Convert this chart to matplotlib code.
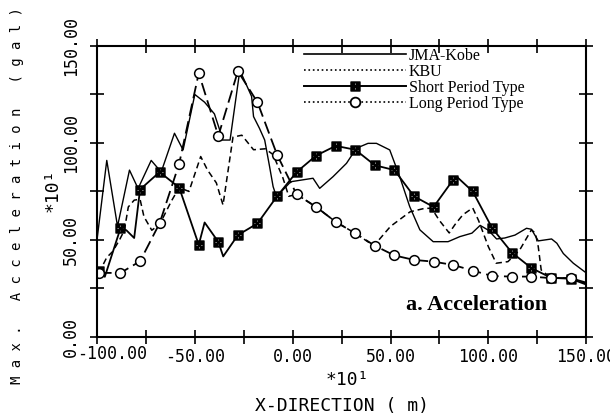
import matplotlib
matplotlib.use("Agg")
import matplotlib.pyplot as plt
from matplotlib.lines import Line2D
from matplotlib.ticker import MultipleLocator, FuncFormatter
from matplotlib.transforms import ScaledTranslation

# ── Data (x in *10 m, acceleration in *10 gal) ───────────────────────────────
JMA_X = [-100, -95, -89.5, -83.4, -79, -72.3, -67.2, -60.4, -56, -50, -45, -40,
         -37.3, -35.8, -32, -27, -21, -20, -17, -14.3, -11.8, -10, -8.3, -1,
         5.3, 10.4, 13.8, 20.6, 27.5, 32.6, 38.5, 42.8, 49.6, 54.7, 59.8, 65,
         71.8, 79.4, 85.4, 91.6, 95.8, 100, 104.2, 108.4, 113.6, 119.5, 122,
         125.5, 132.3, 135, 138.3, 143.4, 150]
JMA_Y = [50, 91, 57, 86, 76.5, 91, 85, 105, 96.4, 125, 121, 115,
         106.7, 101.5, 101.5, 137.5, 124, 113.6, 107.6, 101.5, 87.8, 77.5, 72.3, 80,
         81, 81.8, 76.6, 82.6, 89.5, 97.3, 99.8, 99.8, 96.4, 82.6, 67.2, 55.2,
         49.1, 49.1, 51.7, 53.5, 57.5, 55, 50.5, 51, 52.5, 56, 55.5,
         49.5, 50.5, 48.3, 43, 38, 33]

KBU_X = [-99, -95, -92, -88.5, -86, -84, -81, -78, -76, -72, -68, -62, -58, -53,
         -47, -43.5, -39, -35.6, -30.5, -26, -20, -14, -10, -5, -2, 2, 12, 22,
         32, 41.5, 50, 60, 67.5, 71, 75, 80, 83, 87, 92, 95, 100, 104, 110, 116,
         122, 124, 125.5, 127, 132, 142, 150]
KBU_Y = [33, 41, 44, 50, 55, 67, 70.5, 71, 62, 55, 58, 70, 77, 75,
         93, 86, 79.4, 68, 103, 104, 96.5, 97, 94, 82, 72.5, 73.5, 67, 59.3,
         53.4, 47, 57, 64.5, 66.3, 66.3, 60, 53.6, 58, 63, 66.5, 60, 46.5, 38, 38.8, 44.8,
         55.2, 53.5, 46.5, 34.5, 30.3, 30.3, 27.5]

SP_X = [-99, -96, -88, -85, -81, -78, -68, -58, -48, -45, -38, -35.5, -28, -18,
        -8, 2, 12, 22, 32, 42, 52, 62, 72, 82, 84.5, 92, 102, 112, 122, 132,
        142, 150]
SP_Y = [34, 31, 56, 55, 51, 76, 85, 77, 47.5, 59, 49, 41.5, 52.5, 58.5,
        72.5, 85, 93.5, 98.5, 96.5, 88.5, 86, 72.5, 67, 81, 82, 75, 56, 43.5, 35.5, 30.5,
        30, 27]

MARK_X = [-99, -88, -78, -68, -58, -48, -38, -28, -18, -8, 2, 12, 22, 32, 42,
          52, 62, 72, 82, 92, 102, 112, 122, 132, 142]
SP_MARK_Y = [34, 56, 76, 85, 77, 47.5, 49, 52.5, 58.5, 72.5, 85, 93.5, 98.5,
             96.5, 88.5, 86, 72.5, 67, 81, 75, 56, 43.5, 35.5, 30.5, 30]
LP_MARK_Y = [33, 33, 39, 58.6, 89.3, 136, 103.6, 137, 121, 94, 73.5, 67, 59.3,
             53.4, 47, 42, 39.7, 38.8, 37.1, 34.2, 31.4, 31.1, 31.1, 30.3, 30.3]
LP_END_X, LP_END_Y = 150, 28

X_MIN, X_MAX = -100, 150
LABELS = ["JMA-Kobe", "KBU", "Short Period Type", "Long Period Type"]

MONO = "DejaVu Sans Mono"
SERIF = "Liberation Serif"
SP_MARKER = r"$\boxtimes$"

# ── Figure ───────────────────────────────────────────────────────────────────
fig = plt.figure(figsize=(6.1, 4.18), dpi=100, facecolor="white")
ax = fig.add_axes([0.159, 0.194, 0.802, 0.696])

ax.plot(JMA_X, JMA_Y, color="black", lw=1.0)
ax.plot(KBU_X, KBU_Y, color="black", lw=1.1, ls=(0, (4, 2.5)))
ax.plot(SP_X, SP_Y, color="black", lw=1.3)
ax.plot(MARK_X, SP_MARK_Y, ls="none", marker=SP_MARKER, ms=6.5, color="black")
ax.plot(MARK_X + [LP_END_X], LP_MARK_Y + [LP_END_Y], color="black", lw=1.3,
        ls=(0, (7, 3)))
ax.plot(MARK_X, LP_MARK_Y, ls="none", marker="o", ms=7, mfc="white",
        mec="black", mew=1.1)

ax.set_xlim(X_MIN, X_MAX)
ax.set_ylim(0, 150)
ax.xaxis.set_major_locator(MultipleLocator(25))
ax.yaxis.set_major_locator(MultipleLocator(25))
# the leftmost x label is drawn separately, shifted right as in the reference
ax.xaxis.set_major_formatter(FuncFormatter(
    lambda v, p: f"{v:.2f}" if v % 50 == 0 and v > X_MIN else ""))
ax.yaxis.set_major_formatter(FuncFormatter(lambda v, p: f"{v:.2f}" if v % 50 == 0 else ""))
ax.tick_params(direction="inout", length=10, width=1.2, top=True, right=True,
               labelsize=12, pad=3)
ax.tick_params(axis="y", labelrotation=90, pad=7)
for lab in ax.get_xticklabels() + ax.get_yticklabels():
    lab.set_family(MONO)
for lab in ax.get_yticklabels():
    lab.set_va("center")
for s in ax.spines.values():
    s.set_linewidth(1.5)

shift = ax.get_xaxis_transform() + ScaledTranslation(0.15, -0.08, fig.dpi_scale_trans)
ax.text(X_MIN, 0, f"{X_MIN:.2f}", transform=shift, ha="center", va="top",
        fontsize=12, family=MONO, clip_on=False)

# legend (reference shows the dashed series as dotted samples)
handles = [
    Line2D([], [], color="black", lw=1.2),
    Line2D([], [], color="black", lw=1.2, ls=":"),
    Line2D([], [], color="black", lw=1.4, marker=SP_MARKER, ms=6.5),
    Line2D([], [], color="black", lw=1.2, ls=":", marker="o", ms=7,
           mfc="white", mec="black", mew=1.3),
]
ax.legend(handles, LABELS, loc="upper left", bbox_to_anchor=(0.42, 1.0),
          frameon=False, borderpad=0.1, borderaxespad=0, handlelength=6.4,
          handletextpad=0.15, labelspacing=0.0,
          prop={"family": SERIF, "size": 11.5})

ax.text(0.775, 0.11, "a. Acceleration", transform=ax.transAxes,
        ha="center", va="center", fontsize=16, fontweight="bold", family=SERIF)

# axis titles and multipliers
fig.text(0.57, 0.091, "*10¹", ha="center", va="center", fontsize=13, family=MONO)
fig.text(0.56, 0.029, "X-DIRECTION ( m)", ha="center", va="center",
         fontsize=13, family=MONO)
fig.text(0.086, 0.545, "*10¹", ha="center", va="center", rotation=90,
         fontsize=13, family=MONO)
fig.text(0.028, 0.533, " ".join("Max. Acceleration (gal)"), ha="center",
         va="center", rotation=90, fontsize=10, family=MONO)

fig.savefig("out.png", dpi=100, facecolor="white")
plt.close(fig)
